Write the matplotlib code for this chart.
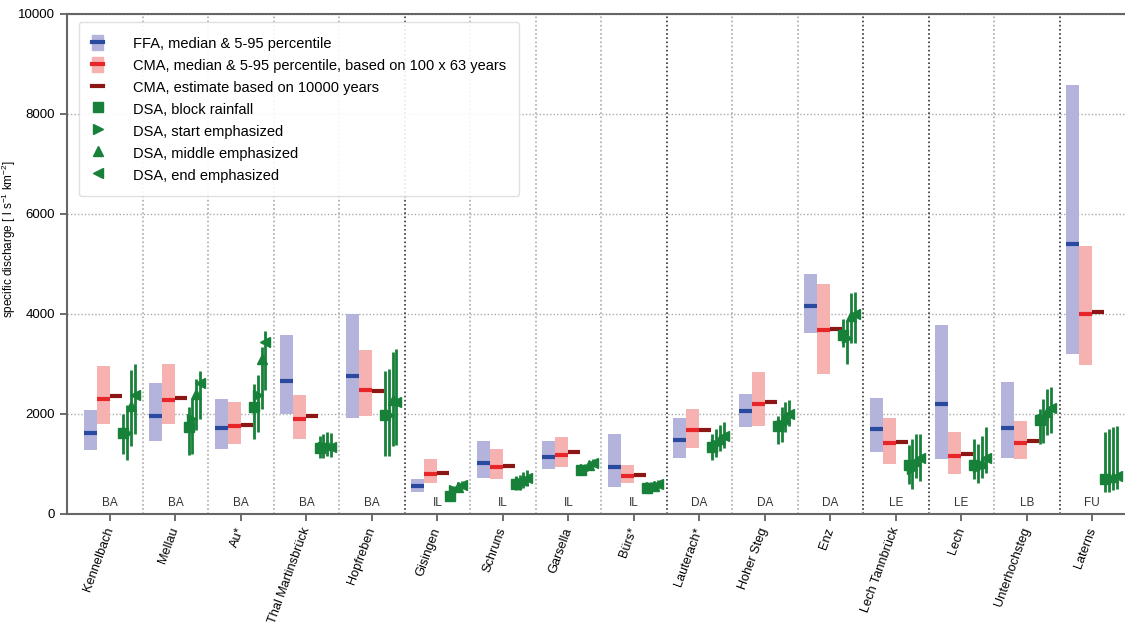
import matplotlib

matplotlib.use("Agg")
import matplotlib.pyplot as plt
from matplotlib.lines import Line2D
from matplotlib.patches import Patch

plt.rcParams["font.family"] = ["Liberation Sans", "DejaVu Sans"]
plt.rcParams["mathtext.default"] = "regular"

stations = ["Kennelbach", "Mellau", "Au*", "Thal Martinsbrück", "Hopfreben",
            "Gisingen", "Schruns", "Garsella", "Bürs*", "Lauterach*",
            "Hoher Steg", "Enz", "Lech Tannbrück", "Lech", "Unterhochsteg", "Laterns"]
regions = ["BA", "BA", "BA", "BA", "BA", "IL", "IL", "IL", "IL",
           "DA", "DA", "DA", "LE", "LE", "LB", "FU"]

# flood frequency analysis: 5 / 50 / 95 percentile
ffa_lo = [1290, 1470, 1300, 2010, 1930, 450, 730, 900, 550, 1130, 1750, 3630, 1250, 1100, 1130, 3210]
ffa_med = [1630, 1970, 1730, 2670, 2770, 570, 1030, 1140, 950, 1480, 2060, 4170, 1710, 2210, 1730, 5400]
ffa_hi = [2080, 2630, 2310, 3580, 4000, 710, 1460, 1460, 1610, 1930, 2410, 4800, 2330, 3780, 2650, 8590]

# continuous modelling approach
cma_lo = [1800, 1800, 1400, 1510, 1970, 630, 710, 950, 620, 1330, 1770, 2810, 1010, 810, 1110, 2980]
cma_med = [2310, 2280, 1760, 1910, 2480, 800, 950, 1190, 760, 1680, 2210, 3680, 1430, 1170, 1430, 4010]
cma_hi = [2960, 3000, 2250, 2380, 3290, 1100, 1310, 1550, 990, 2110, 2850, 4610, 1930, 1650, 1870, 5360]
cma_est = [2370, 2320, 1780, 1970, 2460, 830, 970, 1240, 790, 1690, 2250, 3700, 1450, 1210, 1470, 4050]

# design storm approach, four rainfall distributions
block_val = [1630, 1750, 2150, 1330, 1990, 370, 610, 880, 520, 1350, 1760, 3590, 980, 980, 1880, 700]
block_lo = [1200, 1180, 1510, 1120, 1160, 280, 480, 790, 420, 1080, 1410, 3350, 610, 710, 1400, 450]
block_hi = [2010, 2150, 2610, 1560, 2870, 460, 760, 960, 620, 1610, 1970, 3910, 1380, 1510, 2100, 1640]

start_val = [1630, 1900, 2390, 1340, 1990, 480, 640, 910, 540, 1410, 1800, 3530, 910, 940, 1900, 710]
start_lo = [1090, 1200, 1650, 1130, 1160, 380, 480, 820, 430, 1150, 1450, 3000, 510, 630, 1430, 450]
start_hi = [2180, 2300, 2780, 1600, 2900, 570, 790, 1000, 640, 1700, 2150, 3890, 1510, 1400, 2300, 1700]

middle_val = [2160, 2410, 3110, 1380, 2280, 550, 680, 980, 570, 1510, 1930, 3960, 1070, 1030, 2050, 750]
middle_lo = [1360, 1680, 2110, 1160, 1370, 450, 530, 900, 470, 1270, 1650, 3420, 720, 720, 1580, 480]
middle_hi = [2880, 2710, 3350, 1640, 3250, 640, 850, 1060, 670, 1790, 2250, 4420, 1600, 1560, 2500, 1750]

end_val = [2390, 2630, 3450, 1350, 2250, 580, 730, 1030, 600, 1570, 2010, 4010, 1130, 1130, 2130, 760]
end_lo = [1610, 1910, 2480, 1140, 1380, 500, 560, 950, 500, 1330, 1760, 3420, 670, 830, 1630, 500]
end_hi = [3000, 2870, 3670, 1620, 3300, 660, 880, 1110, 690, 1850, 2280, 4440, 1610, 1750, 2540, 1770]

LAV = "#b3b3dc"
BLUE = "#2a4aa0"
PINK = "#f6b1b1"
RED = "#e82528"
DRED = "#8c1616"
GREEN = "#17813a"

fig = plt.figure(figsize=(11.25, 6.25), dpi=100)
ax = fig.add_axes([0.0596, 0.1776, 0.9404, 0.80])

x = list(range(len(stations)))
bw = 0.2

ax.bar([i - 0.3 for i in x], [h - l for h, l in zip(ffa_hi, ffa_lo)], bottom=ffa_lo,
       width=bw, color=LAV, zorder=2)
ax.hlines(ffa_med, [i - 0.4 for i in x], [i - 0.2 for i in x], color=BLUE, lw=3, zorder=3)
ax.bar([i - 0.1 for i in x], [h - l for h, l in zip(cma_hi, cma_lo)], bottom=cma_lo,
       width=bw, color=PINK, zorder=2)
ax.hlines(cma_med, [i - 0.2 for i in x], x, color=RED, lw=3, zorder=3)
ax.hlines(cma_est, x, [i + 0.18 for i in x], color=DRED, lw=3, zorder=3)

dsa = [
    (0.20, block_val, block_lo, block_hi, "s"),
    (0.255, start_val, start_lo, start_hi, ">"),
    (0.315, middle_val, middle_lo, middle_hi, "^"),
    (0.375, end_val, end_lo, end_hi, "<"),
]
for off, val, lo, hi, mk in dsa:
    yerr = [[v - l for v, l in zip(val, lo)], [h - v for h, v in zip(hi, val)]]
    ax.errorbar([i + off for i in x], val, yerr=yerr, fmt=mk, color=GREEN, ms=7,
                elinewidth=2.0, capsize=0, zorder=4)

# catchment separators, darker between river basins
dark = {4, 8, 11, 12, 14}
for i in range(len(stations) - 1):
    ax.axvline(i + 0.5, ls=(0, (1, 1.5)), lw=1.2,
               color="#333333" if i in dark else "#aaaaaa", zorder=1)

for i, r in enumerate(regions):
    ax.text(i, 230, r, ha="center", va="center", fontsize=8.5, color="#333333")

ax.set_xlim(-0.655, 15.5)
ax.set_ylim(0, 10000)
ax.set_yticks(range(0, 10001, 2000))
ax.yaxis.grid(True, ls=(0, (1, 1.5)), lw=1, color="#aaaaaa", zorder=0)
ax.set_axisbelow(True)
ax.set_xticks(x)
ax.set_xticklabels(stations, rotation=70, ha="right", va="center",
                   rotation_mode="anchor", fontsize=9.2)
ax.tick_params(axis="x", length=5, width=1.2, color="#555555", pad=5)
ax.tick_params(axis="y", length=5, width=1.2, color="#555555", labelsize=9.5)
ax.set_ylabel("specific discharge [ l s$^{-1}$ km$^{-2}$]", fontsize=8.5)
ax.yaxis.set_label_coords(-0.046, 0.55)
for side in ["left", "bottom", "top"]:
    ax.spines[side].set_color("#666666")
    ax.spines[side].set_linewidth(1.5)
ax.spines["right"].set_visible(False)

handles = [
    (Patch(color=LAV), Line2D([], [], color=BLUE, lw=3)),
    (Patch(color=PINK), Line2D([], [], color=RED, lw=3)),
    Line2D([], [], color=DRED, lw=3),
    Line2D([], [], marker="s", ls="none", color=GREEN, ms=7),
    Line2D([], [], marker=">", ls="none", color=GREEN, ms=7),
    Line2D([], [], marker="^", ls="none", color=GREEN, ms=7),
    Line2D([], [], marker="<", ls="none", color=GREEN, ms=7),
]
labels = [
    "FFA, median & 5-95 percentile",
    "CMA, median & 5-95 percentile, based on 100 x 63 years",
    "CMA, estimate based on 10000 years",
    "DSA, block rainfall",
    "DSA, start emphasized",
    "DSA, middle emphasized",
    "DSA, end emphasized",
]
ax.legend(handles, labels, loc="upper left", bbox_to_anchor=(0.004, 0.998),
          fontsize=10.5, handlelength=0.8, handleheight=1.2, handletextpad=2.0,
          labelspacing=0.45, borderpad=0.9, framealpha=0.9, edgecolor="#dddddd",
          fancybox=True)

fig.savefig("out.png", dpi=100)
